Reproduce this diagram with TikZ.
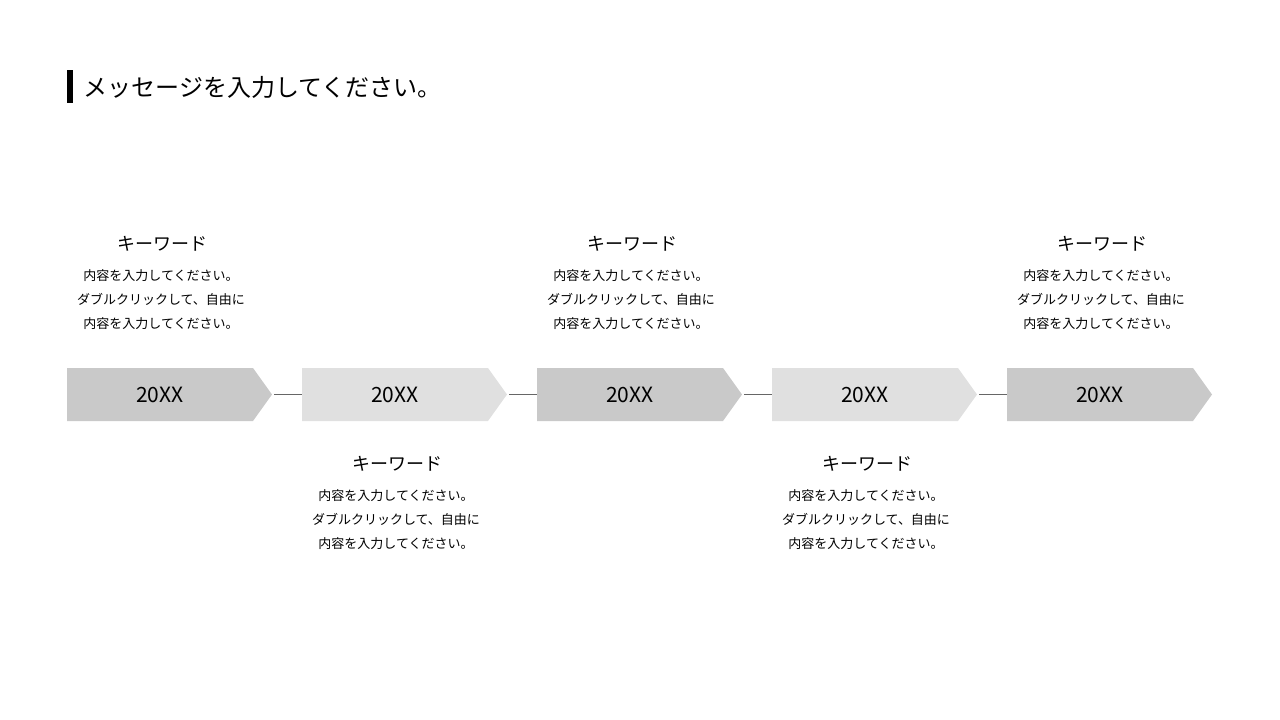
\documentclass[tikz,border=0pt]{standalone}
\usepackage{fontspec}
\usetikzlibrary{calc}
\setmainfont{Noto Sans CJK JP}
\begin{document}
\begin{tikzpicture}[x=1pt,y=-1pt,
  kw/.style={font=\fontsize{18}{22}\selectfont,anchor=center},
  bd/.style={font=\fontsize{13}{24}\selectfont,align=center,anchor=north},
  yr/.style={font=\fontsize{21}{24}\selectfont},
  conn/.style={draw=gray!80!black,line width=1.2pt}]
\useasboundingbox (0,0) rectangle (1280,720);
\fill (67,70) rectangle (73,103);
\node[anchor=west,font=\fontsize{24}{28}\selectfont] (title) at (80,87) {メッセージを入力してください。};
\foreach \i/\x/\c in {1/67/C9C9C9,2/302/E0E0E0,3/537/C9C9C9,4/772/E0E0E0,5/1007/C9C9C9}{
  \definecolor{fc\i}{HTML}{\c}
  \fill[fc\i] (\x,368) -- (\x+186,368) -- (\x+205,394.5) -- (\x+186,421) -- (\x,421) -- cycle;
  \coordinate (L\i) at (\x,394.5);
  \coordinate (R\i) at (\x+205,394.5);
  \node[yr] (y\i) at (\x+93,394.5) {20XX};
}
\foreach \a/\b in {1/2,2/3,3/4,4/5}{ \draw[conn] ($(R\a)+(2,0)$) -- (L\b); }
\foreach \i/\x in {1/67,3/537,5/1007}{
  \node[kw] (k\i) at (\x+95,244) {キーワード};
  \node[bd] (b\i) at (\x+94,266) {内容を入力してください。\\ダブルクリックして、自由に\\内容を入力してください。};
}
\foreach \i/\x in {2/302,4/772}{
  \node[kw] (k\i) at (\x+95,464) {キーワード};
  \node[bd] (b\i) at (\x+94,486) {内容を入力してください。\\ダブルクリックして、自由に\\内容を入力してください。};
}
\end{tikzpicture}
\end{document}
